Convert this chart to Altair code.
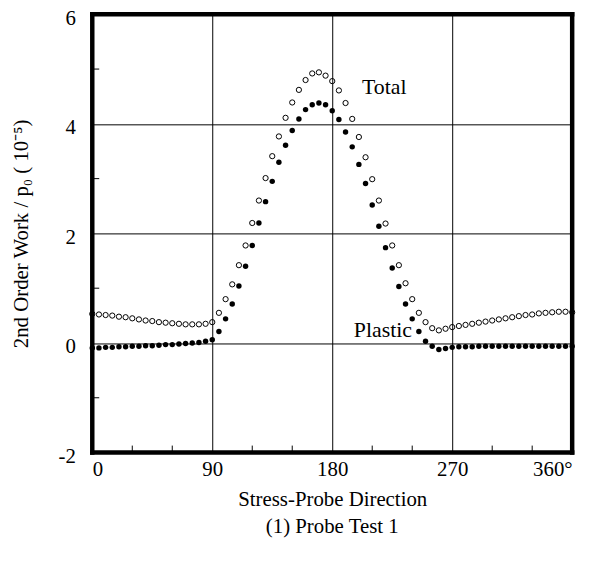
import altair as alt
import pandas as pd

angles = list(range(0, 365, 5))

total = [0.53, 0.52, 0.51, 0.50, 0.48, 0.47, 0.45, 0.43, 0.41, 0.40,
         0.38, 0.37, 0.36, 0.35, 0.34, 0.34, 0.34, 0.35, 0.38, 0.55,
         0.80, 1.07, 1.42, 1.78, 2.19, 2.60, 3.01, 3.41, 3.77, 4.11,
         4.39, 4.62, 4.80, 4.92, 4.94, 4.88, 4.78, 4.61, 4.38, 4.09,
         3.76, 3.39, 2.99, 2.60, 2.18, 1.78, 1.42, 1.09, 0.80, 0.55,
         0.38, 0.27, 0.23, 0.26, 0.29, 0.31, 0.33, 0.35, 0.37, 0.39,
         0.41, 0.43, 0.45, 0.47, 0.49, 0.51, 0.52, 0.54, 0.55, 0.56,
         0.57, 0.57, 0.56]

plastic = [-0.09, -0.09, -0.08, -0.08, -0.07, -0.07, -0.06, -0.06, -0.05, -0.05,
           -0.04, -0.03, -0.03, -0.02, -0.01, 0.00, 0.01, 0.03, 0.06, 0.21,
           0.44, 0.71, 1.04, 1.40, 1.78, 2.19, 2.58, 2.95, 3.30, 3.61,
           3.88, 4.09, 4.26, 4.35, 4.38, 4.35, 4.24, 4.08, 3.85, 3.58,
           3.26, 2.91, 2.52, 2.13, 1.74, 1.37, 1.03, 0.71, 0.44, 0.21,
           0.03, -0.06, -0.12, -0.10, -0.08, -0.07, -0.07, -0.07, -0.06, -0.06,
           -0.06, -0.06, -0.06, -0.06, -0.06, -0.06, -0.06, -0.06, -0.06, -0.06,
           -0.06, -0.06, -0.06]

x_ticks = [0, 90, 180, 270, 360]
y_ticks = [-2, 0, 2, 4, 6]
x_minor = [30, 60, 120, 150, 210, 240, 300, 330]
y_minor = [-1, 1, 3, 5]

label_text = ["Total", "Plastic"]
label_x = [219, 218]
label_y = [4.68, 0.24]

FONT = "Liberation Serif"
W, H = 484, 442

df = pd.DataFrame({"angle": angles, "total": total, "plastic": plastic})
lab = pd.DataFrame({"text": label_text, "x": label_x, "y": label_y})
xm = pd.DataFrame({"x": x_minor})
ym = pd.DataFrame({"y": y_minor})
one = pd.DataFrame({"k": [0]})

xscale = alt.Scale(domain=[0, 360], nice=False, zero=False)
yscale = alt.Scale(domain=[-2, 6], nice=False, zero=False)

xaxis = alt.Axis(values=x_ticks, grid=True, gridColor="black", gridOpacity=1, gridWidth=1,
                 ticks=False, domain=False, labelFont=FONT, labelFontSize=21,
                 labelColor="black", labelPadding=6,
                 labelExpr="datum.value == 360 ? '360°' : toString(datum.value)",
                 title="Stress-Probe Direction", titleFont=FONT, titleFontSize=21,
                 titleFontWeight="normal", titleColor="black", titlePadding=9)
yaxis = alt.Axis(values=y_ticks, grid=True, gridColor="black", gridOpacity=1, gridWidth=1,
                 ticks=False, domain=False, labelFont=FONT, labelFontSize=21,
                 labelColor="black", labelPadding=17, labelOffset=4,
                 labelExpr="toString(datum.value)",
                 title="2nd Order Work / p₀ ( 10⁻⁵)", titleFont=FONT, titleFontSize=21,
                 titleFontWeight="normal", titleColor="black",
                 titleX=-71, titleY=H / 2, titleAngle=270,
                 titleAlign="center", titleBaseline="middle")

tot = alt.Chart(df).mark_point(shape="circle", filled=False, color="black",
                               strokeWidth=1, size=28, opacity=1).encode(
    x=alt.X("angle:Q", scale=xscale, axis=xaxis),
    y=alt.Y("total:Q", scale=yscale, axis=yaxis),
)
pla = alt.Chart(df).mark_circle(color="black", size=30, opacity=1).encode(
    x=alt.X("angle:Q", scale=xscale),
    y=alt.Y("plastic:Q", scale=yscale),
)
txt = alt.Chart(lab).mark_text(font=FONT, fontSize=22, color="black",
                               align="center", baseline="middle").encode(
    x=alt.X("x:Q", scale=xscale),
    y=alt.Y("y:Q", scale=yscale),
    text="text:N",
)
xmin = alt.Chart(xm).mark_rule(color="black", strokeWidth=1).encode(
    x=alt.X("x:Q", scale=xscale),
    y=alt.value(H), y2=alt.value(H - 7),
)
ymin = alt.Chart(ym).mark_rule(color="black", strokeWidth=1).encode(
    y=alt.Y("y:Q", scale=yscale),
    x=alt.value(0), x2=alt.value(7),
)

def edge(x, x2, y, y2):
    return alt.Chart(one).mark_rule(color="black", strokeWidth=4.5,
                                    strokeCap="square").encode(
        x=alt.value(x), x2=alt.value(x2), y=alt.value(y), y2=alt.value(y2))

frame = [edge(0, 0, 0, H), edge(W, W, 0, H), edge(0, W, 0, 0), edge(0, W, H, H)]

chart = alt.layer(xmin, ymin, tot, pla, txt, *frame).properties(
    width=W, height=H,
    autosize=alt.AutoSizeParams(type="none"),
    padding={"left": 85, "top": 4, "right": 20, "bottom": 100},
    title=alt.TitleParams("(1) Probe Test 1", orient="bottom", anchor="middle",
                          font=FONT, fontSize=21, fontWeight="normal",
                          color="black", offset=7),
).configure_view(stroke=None).configure(background="white")

chart.save("out.html", embed_options={"renderer": "svg", "actions": False})
